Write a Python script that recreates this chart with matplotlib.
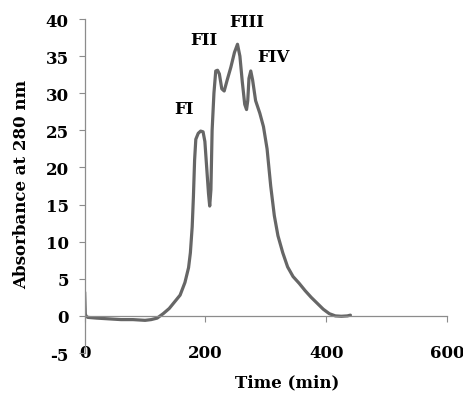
import matplotlib
matplotlib.use("Agg")
import matplotlib.pyplot as plt

plt.rcParams["axes.unicode_minus"] = False

# elution profile
time_min = [0, 1, 2, 5, 20, 40, 60, 80, 100, 110, 120, 130, 140, 150, 158, 166,
            172, 175, 178, 180, 182, 184, 188, 192, 196, 199, 202, 205, 207, 209,
            211, 214, 217, 220, 223, 227, 231, 236, 242, 248, 253, 257, 261, 265,
            268, 270, 272, 275, 278, 283, 290, 296, 302, 308, 314, 320, 328, 336,
            345, 355, 365, 375, 385, 395, 405, 415, 425, 435, 440]
absorbance = [3.2, 0.3, 0.0, -0.2, -0.3, -0.4, -0.5, -0.5, -0.6, -0.5, -0.3, 0.3,
              1.0, 2.0, 2.8, 4.5, 6.5, 8.5, 12.0, 16.0, 21.0, 23.8, 24.6, 24.9,
              24.8, 23.5, 20.0, 16.5, 14.8, 17.0, 25.0, 30.0, 33.0, 33.1, 32.6,
              30.6, 30.3, 31.8, 33.5, 35.5, 36.6, 35.0, 31.5, 28.5, 27.8, 29.0,
              32.0, 33.0, 31.8, 29.0, 27.3, 25.5, 22.5, 17.5, 13.5, 10.8, 8.5,
              6.6, 5.3, 4.4, 3.4, 2.5, 1.7, 0.9, 0.3, 0.0, -0.05, 0.0, 0.1]

peak_labels = ["FI", "FII", "FIII", "FIV"]
peak_x = [164, 198, 268, 312]
peak_y = [28.0, 37.2, 39.6, 35.0]

xticks = [0, 200, 400, 600]
yticks = [-5, 0, 5, 10, 15, 20, 25, 30, 35, 40]

font = "DejaVu Serif"
axis_color = "#8c8c8c"

fig = plt.figure(figsize=(4.64, 4.02), dpi=100)
ax = fig.add_axes([0.1825, 0.1194, 0.781, 0.8308])

ax.plot(time_min, absorbance, color="#666666", linewidth=2.3, solid_capstyle="round")

ax.set_xlim(0, 600)
ax.set_ylim(-5, 40)
ax.set_xticks(xticks)
ax.set_yticks(yticks)

ax.spines["top"].set_visible(False)
ax.spines["right"].set_visible(False)
ax.spines["bottom"].set_position(("data", 0))
for s in ("left", "bottom"):
    ax.spines[s].set_color(axis_color)
    ax.spines[s].set_linewidth(0.9)

ax.tick_params(axis="y", direction="out", length=4.5, width=0.8, color=axis_color, pad=7)
ax.tick_params(axis="x", direction="out", length=4.5, width=0.8, color=axis_color, pad=16)

for lab in ax.get_xticklabels() + ax.get_yticklabels():
    lab.set_fontfamily(font)
    lab.set_fontweight("bold")
    lab.set_fontsize(12)

for name, px, py in zip(peak_labels, peak_x, peak_y):
    ax.text(px, py, name, ha="center", va="center", family=font,
            fontweight="bold", fontsize=12)

fig.text(287 / 464, 1 - 383 / 402, "Time (min)", ha="center", va="center",
         family=font, fontweight="bold", fontsize=12)
fig.text(22 / 464, 1 - 184 / 402, "Absorbance at 280 nm", ha="center", va="center",
         rotation=90, family=font, fontweight="bold", fontsize=12)

fig.savefig("out.png", dpi=100)
